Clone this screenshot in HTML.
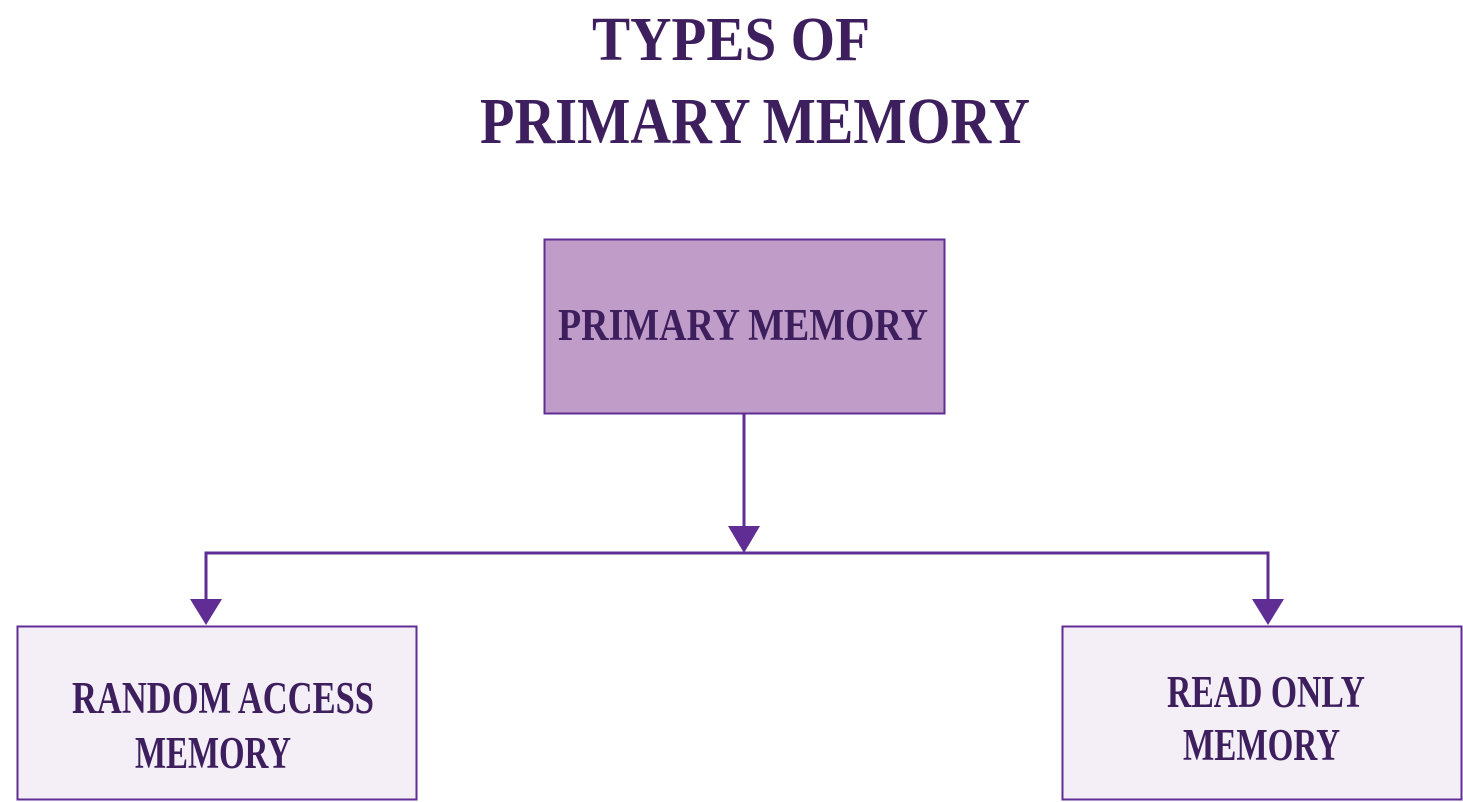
<!DOCTYPE html>
<html><head><meta charset="utf-8"><style>html,body{margin:0;padding:0;background:#fff}svg{display:block}</style></head>
<body>
<svg width="1463" height="802" viewBox="0 0 1463 802" xmlns="http://www.w3.org/2000/svg">
<g font-family="Liberation Serif, serif" font-weight="bold" fill="#3e1f5e">
<text x="592" y="60" font-size="62" textLength="278" lengthAdjust="spacingAndGlyphs">TYPES OF</text>
<text x="480" y="143" font-size="66" textLength="550" lengthAdjust="spacingAndGlyphs">PRIMARY MEMORY</text>
</g>
<rect x="544.5" y="239.5" width="400" height="174" fill="#c09cc9" stroke="#5f2d93" stroke-width="2"/>
<rect x="17.5" y="626.5" width="399" height="173" fill="#f4eff7" stroke="#5f2d93" stroke-width="2"/>
<rect x="1062.5" y="626.5" width="399" height="173" fill="#f4eff7" stroke="#5f2d93" stroke-width="2"/>
<g stroke="#5f2d93" stroke-width="3" fill="none">
<line x1="744" y1="414" x2="744" y2="530"/>
<polyline points="206,605 206,553 1268,553 1268,605"/>
</g>
<g fill="#5f2d93">
<polygon points="728,526 760,526 744,553"/>
<polygon points="190,599 222,599 206,625"/>
<polygon points="1252,599 1284,599 1268,625"/>
</g>
<g font-family="Liberation Serif, serif" font-weight="bold" fill="#3e1f5e" font-size="45">
<text x="558" y="340" textLength="370" lengthAdjust="spacingAndGlyphs">PRIMARY MEMORY</text>
<text x="72" y="713" textLength="302" lengthAdjust="spacingAndGlyphs">RANDOM ACCESS</text>
<text x="135" y="768" textLength="156" lengthAdjust="spacingAndGlyphs">MEMORY</text>
<text x="1167" y="707" textLength="198" lengthAdjust="spacingAndGlyphs">READ ONLY</text>
<text x="1183" y="760" textLength="157" lengthAdjust="spacingAndGlyphs">MEMORY</text>
</g>
</svg>
</body></html>
